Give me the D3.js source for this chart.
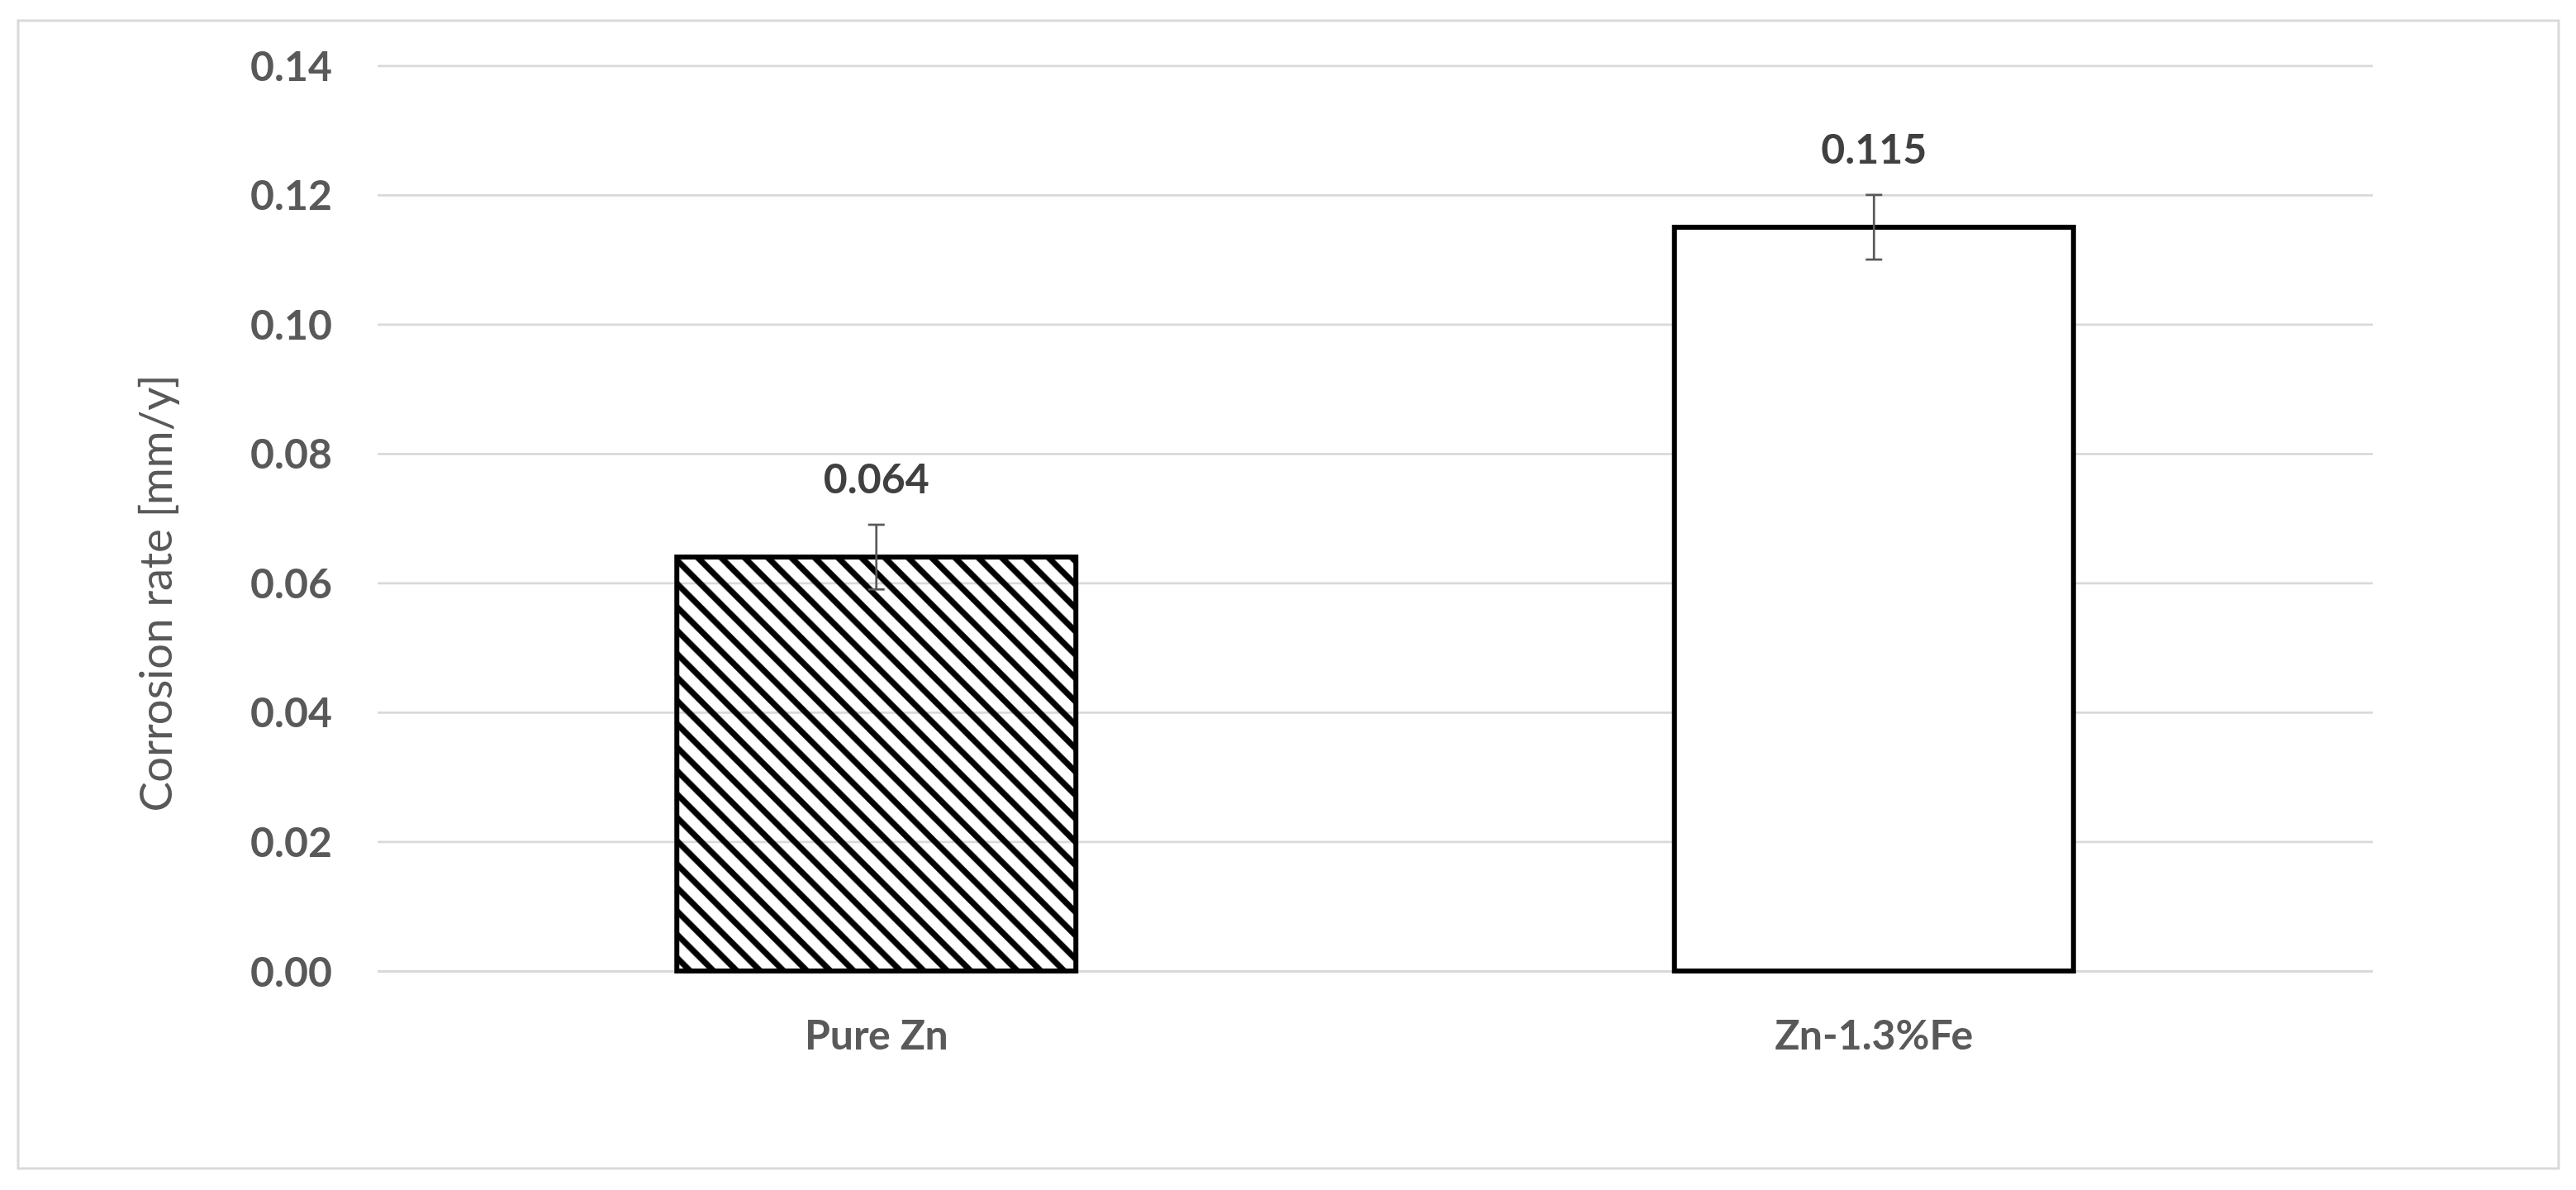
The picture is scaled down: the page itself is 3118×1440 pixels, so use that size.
<!DOCTYPE html>
<html>
<head>
<meta charset="utf-8">
<title>Corrosion rate</title>
<script src="https://cdn.jsdelivr.net/npm/d3@7/dist/d3.min.js"></script>
<style>
    html, body { margin: 0; padding: 0; background: #ffffff; }
    #chartdiv { width: 3118px; height: 1440px; }
    text { font-family: Lato, "Open Sans", sans-serif; }
</style>
</head>
<body>
<div id="chartdiv"></div>
<script>
/*global d3 */

//chart values
var categories = ["Pure Zn", "Zn-1.3%Fe"];
var rates = [0.064, 0.115];
var rateErrors = [0.005, 0.005];
var hatched = [true, false];
var yTicks = [0, 0.02, 0.04, 0.06, 0.08, 0.10, 0.12, 0.14];
var yTitle = "Corrosion rate [mm/y]";

(function () {
    "use strict";

    var ds = {w: 3118, h: 1440,
              plot: {left: 457, right: 2872, top: 79.3, bottom: 1175},
              gridcolor: "#d9d9d9", tickcolor: "#595959",
              labelcolor: "#404040", errcolor: "#595959",
              fontsize: 50, capw: 20},
        svg, x, y, rows, eg, yaxis, xaxis;

    rows = categories.map(function (c, i) {
        return {cat: c, val: rates[i], err: rateErrors[i], hatch: hatched[i]}; });

    svg = d3.select("#chartdiv").append("svg")
        .attr("width", ds.w).attr("height", ds.h)
        .attr("viewBox", "0 0 " + ds.w + " " + ds.h);

    //wide downward diagonal fill, Excel style
    svg.append("defs").append("pattern")
        .attr("id", "hatch")
        .attr("patternUnits", "userSpaceOnUse")
        .attr("width", 28.3).attr("height", 28.3)
        .append("path")
        .attr("d", "M-7,21.3 L7,35.3 M0,0 L28.3,28.3 M21.3,-7 L35.3,7")
        .attr("stroke", "#000000").attr("stroke-width", 7.2);

    //outer chart frame
    svg.append("rect")
        .attr("x", 22).attr("y", 25).attr("width", 3075).attr("height", 1389)
        .attr("fill", "#ffffff")
        .attr("stroke", ds.gridcolor).attr("stroke-width", 3);

    x = d3.scaleBand().domain(categories)
        .range([ds.plot.left, ds.plot.right])
        .paddingInner(0.6).paddingOuter(0.3);
    y = d3.scaleLinear().domain([0, 0.14])
        .range([ds.plot.bottom, ds.plot.top]);

    //gridlines
    svg.append("g")
        .attr("transform", "translate(" + ds.plot.left + ",0)")
        .call(d3.axisLeft(y).tickValues(yTicks)
              .tickSize(-(ds.plot.right - ds.plot.left)).tickFormat(""))
        .call(function (g) { g.select(".domain").remove(); })
        .selectAll(".tick line")
        .attr("stroke", ds.gridcolor).attr("stroke-width", 2.8);

    //y tick labels
    yaxis = svg.append("g")
        .attr("transform", "translate(" + ds.plot.left + ",0)")
        .call(d3.axisLeft(y).tickValues(yTicks).tickSize(0)
              .tickPadding(55).tickFormat(d3.format(".2f")));
    yaxis.select(".domain").remove();
    yaxis.selectAll("text")
        .attr("fill", ds.tickcolor).attr("dy", "0.36em")
        .style("font-size", ds.fontsize + "px").style("font-weight", "bold");

    //category labels
    xaxis = svg.append("g")
        .attr("transform", "translate(0," + ds.plot.bottom + ")")
        .call(d3.axisBottom(x).tickSize(0).tickPadding(0));
    xaxis.select(".domain").remove();
    xaxis.selectAll("text")
        .attr("y", 95).attr("dy", 0)
        .attr("fill", ds.tickcolor)
        .style("font-size", ds.fontsize + "px").style("font-weight", "bold");

    //bars
    svg.append("g").selectAll("rect").data(rows).enter().append("rect")
        .attr("x", function (d) { return x(d.cat); })
        .attr("y", function (d) { return y(d.val); })
        .attr("width", x.bandwidth())
        .attr("height", function (d) { return y(0) - y(d.val); })
        .attr("fill", function (d) { return d.hatch ? "url(#hatch)" : "#ffffff"; })
        .attr("stroke", "#000000").attr("stroke-width", 6)
        .attr("stroke-linejoin", "miter");

    //error bars
    eg = svg.append("g").selectAll("g").data(rows).enter().append("g")
        .attr("stroke", ds.errcolor).attr("stroke-width", 2.7);
    eg.append("line")
        .attr("x1", function (d) { return x(d.cat) + x.bandwidth() / 2; })
        .attr("x2", function (d) { return x(d.cat) + x.bandwidth() / 2; })
        .attr("y1", function (d) { return y(d.val + d.err); })
        .attr("y2", function (d) { return y(d.val - d.err); });
    [1, -1].forEach(function (sign) {
        eg.append("line")
            .attr("x1", function (d) { return x(d.cat) + x.bandwidth() / 2 - ds.capw / 2; })
            .attr("x2", function (d) { return x(d.cat) + x.bandwidth() / 2 + ds.capw / 2; })
            .attr("y1", function (d) { return y(d.val + sign * d.err); })
            .attr("y2", function (d) { return y(d.val + sign * d.err); }); });

    //value labels above the error bars
    svg.append("g").selectAll("text").data(rows).enter().append("text")
        .attr("x", function (d) { return x(d.cat) + x.bandwidth() / 2; })
        .attr("y", function (d) { return y(d.val + d.err) - 38; })
        .attr("text-anchor", "middle")
        .attr("fill", ds.labelcolor)
        .style("font-size", ds.fontsize + "px").style("font-weight", "bold")
        .text(function (d) { return d3.format(".3f")(d.val); });

    //y axis title
    svg.append("text")
        .attr("transform", "translate(208,718) rotate(-90)")
        .attr("text-anchor", "middle")
        .attr("fill", ds.tickcolor)
        .style("font-size", "54.5px")
        .text(yTitle);
}());
</script>
</body>
</html>
